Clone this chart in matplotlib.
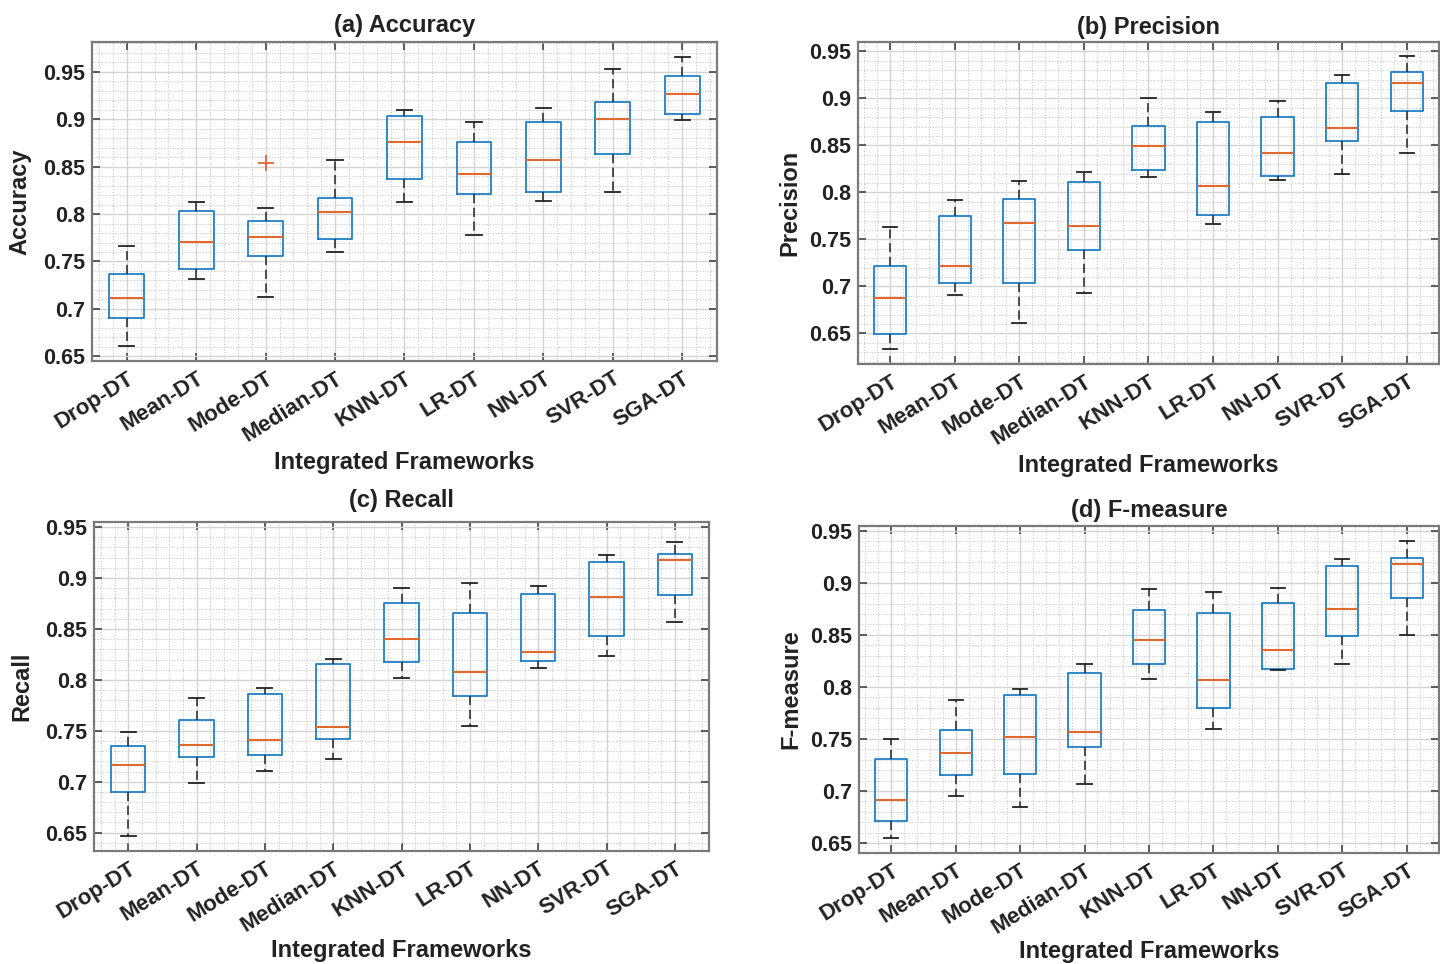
"""
Box plots of the four evaluation metrics for the integrated imputation + DT frameworks
"""
import numpy as np
import matplotlib.pyplot as plt
from matplotlib.ticker import MultipleLocator, FixedLocator

plt.rcParams['font.family'] = ['Liberation Sans', 'DejaVu Sans']
plt.rcParams['font.weight'] = 'bold'

# categories
frameworks = ['Drop-DT', 'Mean-DT', 'Mode-DT', 'Median-DT', 'KNN-DT',
              'LR-DT', 'NN-DT', 'SVR-DT', 'SGA-DT']
yticks = [0.65, 0.7, 0.75, 0.8, 0.85, 0.9, 0.95]
ytick_labels = ['0.65', '0.7', '0.75', '0.8', '0.85', '0.9', '0.95']

# (a) Accuracy: lower whisker, q1, median, q3, upper whisker
acc_lo = [0.661, 0.732, 0.713, 0.760, 0.813, 0.778, 0.814, 0.823, 0.899]
acc_q1 = [0.690, 0.742, 0.756, 0.774, 0.837, 0.821, 0.823, 0.863, 0.906]
acc_med = [0.712, 0.771, 0.776, 0.802, 0.876, 0.842, 0.857, 0.900, 0.927]
acc_q3 = [0.737, 0.803, 0.793, 0.817, 0.903, 0.876, 0.897, 0.918, 0.946]
acc_hi = [0.766, 0.813, 0.806, 0.857, 0.910, 0.897, 0.912, 0.953, 0.966]
acc_out = [[], [], [0.854], [], [], [], [], [], []]

# (b) Precision
pre_lo = [0.633, 0.691, 0.661, 0.693, 0.816, 0.766, 0.813, 0.820, 0.842]
pre_q1 = [0.649, 0.704, 0.704, 0.739, 0.824, 0.776, 0.818, 0.855, 0.887]
pre_med = [0.688, 0.722, 0.767, 0.764, 0.849, 0.807, 0.842, 0.869, 0.916]
pre_q3 = [0.722, 0.775, 0.793, 0.811, 0.871, 0.875, 0.880, 0.916, 0.928]
pre_hi = [0.763, 0.792, 0.812, 0.822, 0.900, 0.886, 0.897, 0.925, 0.945]

# (c) Recall
rec_lo = [0.647, 0.699, 0.711, 0.722, 0.802, 0.755, 0.812, 0.823, 0.857]
rec_q1 = [0.690, 0.724, 0.726, 0.742, 0.818, 0.784, 0.819, 0.843, 0.883]
rec_med = [0.716, 0.736, 0.741, 0.754, 0.840, 0.808, 0.827, 0.881, 0.918]
rec_q3 = [0.735, 0.761, 0.786, 0.816, 0.875, 0.866, 0.884, 0.916, 0.924]
rec_hi = [0.749, 0.782, 0.792, 0.821, 0.890, 0.895, 0.892, 0.923, 0.935]

# (d) F-measure
f1_lo = [0.655, 0.695, 0.685, 0.707, 0.808, 0.760, 0.816, 0.822, 0.850]
f1_q1 = [0.671, 0.715, 0.716, 0.742, 0.822, 0.780, 0.817, 0.849, 0.885]
f1_med = [0.691, 0.737, 0.752, 0.757, 0.845, 0.807, 0.835, 0.875, 0.918]
f1_q3 = [0.731, 0.759, 0.792, 0.813, 0.874, 0.871, 0.881, 0.916, 0.924]
f1_hi = [0.750, 0.787, 0.798, 0.822, 0.894, 0.891, 0.895, 0.923, 0.940]

BLUE = '#1f80c6'
ORANGE = '#e0692e'


def make_stats(lo, q1, med, q3, hi, out=None):
    stats = []
    for i in range(len(lo)):
        stats.append(dict(whislo=lo[i], q1=q1[i], med=med[i], q3=q3[i], whishi=hi[i],
                          fliers=out[i] if out else []))
    return stats


panels = [
    # title, ylabel, stats, ylim, rect, title pad, xlabel y, ylabel x
    ('(a) Accuracy', 'Accuracy', make_stats(acc_lo, acc_q1, acc_med, acc_q3, acc_hi, acc_out),
     (0.645, 0.9815), [0.0639, 0.6255, 0.434, 0.3309], 7, -0.317, -0.115),
    ('(b) Precision', 'Precision', make_stats(pre_lo, pre_q1, pre_med, pre_q3, pre_hi),
     (0.6175, 0.960), [0.5958, 0.6224, 0.4035, 0.334], 6, -0.314, -0.117),
    ('(c) Recall', 'Recall', make_stats(rec_lo, rec_q1, rec_med, rec_q3, rec_hi),
     (0.632, 0.955), [0.0653, 0.1172, 0.4271, 0.3413], 11, -0.301, -0.117),
    ('(d) F-measure', 'F-measure', make_stats(f1_lo, f1_q1, f1_med, f1_q3, f1_hi),
     (0.6405, 0.9545), [0.5965, 0.1151, 0.4028, 0.3393], 6.5, -0.30, -0.117),
]

fig = plt.figure(figsize=(14.4, 9.64), dpi=100)

for title, ylab, stats, ylim, rect, tpad, xly, ylx in panels:
    ax = fig.add_axes(rect)
    ax.set_axisbelow(True)
    ax.bxp(stats, positions=np.arange(1, len(frameworks) + 1), widths=0.5, capwidths=0.22,
           showfliers=True,
           boxprops=dict(color=BLUE, linewidth=1.3),
           medianprops=dict(color=ORANGE, linewidth=1.5),
           whiskerprops=dict(color='#222222', linewidth=1.1, linestyle=(0, (6, 3))),
           capprops=dict(color='#222222', linewidth=1.3),
           flierprops=dict(marker='+', markeredgecolor=ORANGE, markersize=11,
                           markeredgewidth=1.3, linestyle='none'))

    ax.set_xlim(0.5, len(frameworks) + 0.5)
    ax.set_ylim(*ylim)
    ax.set_xticks(np.arange(1, len(frameworks) + 1))
    ax.set_xticklabels(frameworks, rotation=32, ha='right', va='top',
                       rotation_mode='anchor', fontsize=16, fontweight='bold')
    ax.yaxis.set_major_locator(FixedLocator(yticks))
    ax.set_yticklabels(ytick_labels, fontsize=15.5, fontweight='bold')
    ax.xaxis.set_minor_locator(MultipleLocator(0.2))
    ax.yaxis.set_minor_locator(MultipleLocator(0.01))

    ax.grid(True, which='major', color='#d4d4d4', linewidth=1.0)
    ax.grid(True, which='minor', color='#c8c8c8', linewidth=0.75, linestyle=':')

    ax.tick_params(which='major', direction='in', length=6, width=1.2, color='#444444',
                   top=True, right=True, labelcolor='#222222', pad=5)
    ax.tick_params(which='minor', length=0, top=True, right=True)
    for sp in ax.spines.values():
        sp.set_color('#7a7a7a')
        sp.set_linewidth(1.6)

    ax.set_title(title, fontsize=17, fontweight='bold', pad=tpad, color='#222222')
    ax.set_xlabel('Integrated Frameworks', fontsize=17, fontweight='bold', color='#222222')
    ax.xaxis.set_label_coords(0.5, xly)
    ax.xaxis.label.set_verticalalignment('center')
    ax.set_ylabel(ylab, fontsize=17, fontweight='bold', color='#222222')
    ax.yaxis.set_label_coords(ylx, 0.5)
    ax.yaxis.label.set_verticalalignment('center')

fig.savefig('out.png', dpi=100, facecolor='white')
